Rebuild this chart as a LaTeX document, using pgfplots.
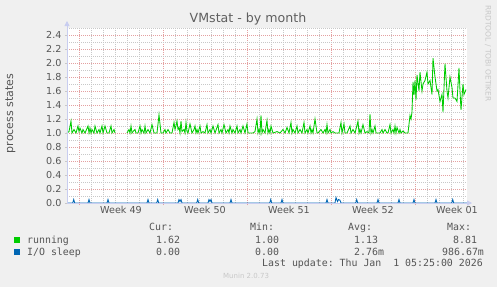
\documentclass[border=0pt]{standalone}
\usepackage{fontspec}
\setmainfont{DejaVu Sans}
\newfontfamily\monof{DejaVu Sans Mono}
\usepackage{pgfplots}
\pgfplotsset{compat=1.18}
\usetikzlibrary{arrows.meta}
\frenchspacing
\definecolor{bg}{RGB}{240,240,240}
\definecolor{axcol}{RGB}{200,205,240}
\definecolor{mgrid}{RGB}{228,160,160}
\definecolor{ngrid}{RGB}{200,200,200}
\definecolor{txt}{RGB}{85,85,85}
\definecolor{ttl}{RGB}{95,95,95}
\definecolor{wm}{RGB}{200,200,200}
\definecolor{running}{HTML}{00CC00}
\definecolor{iosleep}{HTML}{0066B3}
\begin{document}
\frenchspacing
\begin{tikzpicture}[x=1bp,y=1bp]
\path[use as bounding box, fill=bg] (0,0) rectangle (497,287);
\begin{axis}[
  name=ax,
  at={(67bp,84bp)}, anchor=south west,
  width=400bp, height=175bp, scale only axis,
  xmin=0, xmax=800, ymin=0, ymax=2.5,
  axis background/.style={fill=white},
  axis lines=left,
  axis line style={draw=none},
  unbounded coords=jump,
  xtick={24,192,360,528,696},
  xticklabels={},
  minor xtick={0,48,72,96,120,144,168,216,240,264,288,312,336,384,408,432,456,480,504,552,576,600,624,648,672,720,744,768,792},
  extra x ticks={108,276,444,612,780},
  extra x tick labels={Week 49,Week 50,Week 51,Week 52,Week 01},
  extra x tick style={grid=none, major tick length=0pt},
  ytick={0,0.2,0.4,0.6,0.8,1.0,1.2,1.4,1.6,1.8,2.0,2.2,2.4},
  minor ytick={0.1,0.3,0.5,0.7,0.9,1.1,1.3,1.5,1.7,1.9,2.1,2.3,2.5},
  grid=both,
  major grid style={mgrid, line width=0.6bp, dash pattern=on 1bp off 1bp},
  minor grid style={ngrid, line width=0.6bp, dash pattern=on 1bp off 1bp},
  tick align=outside,
  major tick length=2bp, minor tick length=0bp,
  x tick style={mgrid, line width=0.6bp},
  y tick style={ngrid, line width=0.6bp},
  /pgf/number format/assume math mode=true,
  yticklabel style={/pgf/number format/.cd, fixed, fixed zerofill, precision=1},
  ticklabel style={font=\fontsize{9.6bp}{11bp}\selectfont, text=txt},
  clip=false,
]
\addplot[running, line width=0.85bp] coordinates {
(0,1.0)(4,1.02)(8,1.17)(10,1.0)(14,1.05)(18,1.0)(22,1.1)(24,1.02)(26,1.07)(30,1.0)(32,1.05)(36,1.0)(42,1.1)(44,1.0)(46,1.07)(48,1.0)(50,1.05)(54,1.0)(56,1.1)(60,1.0)(64,1.05)(66,1.0)(70,1.1)(72,1.0)(76,1.1)(78,1.05)(80,1.0)(84,1.0)(88,1.1)(90,1.0)(94,1.05)(96,1.0)
(108,nan)
(120,1.0)(124,1.05)(126,1.0)(128,1.1)(130,1.0)(132,1.02)(136,1.05)(138,1.0)(142,1.0)(146,1.1)(148,1.0)(150,1.05)(154,1.0)(156,1.1)(158,1.0)(162,1.05)(166,1.0)(170,1.12)(174,1.0)(180,1.0)(184,1.26)(188,1.0)(192,1.0)(196,1.05)(198,1.0)(202,1.05)(206,1.0)(210,1.0)(214,1.15)(216,1.05)(218,1.1)(220,1.17)(222,1.05)(224,1.08)(226,1.0)(228,1.17)(230,1.02)(234,1.05)(236,1.0)(238,1.15)(240,1.02)(242,1.0)(246,1.13)(250,1.0)(254,1.05)(256,1.1)(258,1.0)(260,1.05)(262,1.0)(266,1.1)(268,1.0)(272,1.02)(276,1.0)(280,1.12)(282,1.0)(286,1.05)(288,1.0)(292,1.1)(296,1.0)(302,1.12)(304,1.0)(308,1.05)(310,1.0)(314,1.12)(318,1.0)(322,1.05)(324,1.0)(326,1.1)(330,1.0)(332,1.05)(336,1.0)(340,1.1)(342,1.0)(346,1.05)(348,1.0)(352,1.1)(356,1.0)(360,1.13)(362,1.0)(366,1.0)(372,1.0)(376,1.02)(380,1.2)(382,1.0)(384,1.05)(386,1.0)(388,1.25)(390,1.0)(392,1.05)(396,1.0)(400,1.18)(402,1.0)(404,1.05)(406,1.0)(408,1.1)(412,1.0)(420,1.02)(426,1.0)(432,1.05)(436,1.0)(440,1.08)(444,1.0)(448,1.15)(450,1.0)(452,1.05)(456,1.0)(460,1.1)(462,1.0)(466,1.05)(470,1.0)(474,1.15)(476,1.0)(480,1.05)(482,1.0)(486,1.1)(488,1.0)(490,1.05)(492,1.0)(496,1.2)(500,1.0)(502,1.0)(508,1.05)(512,1.0)(516,1.05)(518,1.0)(520,1.12)(522,1.0)(526,1.05)(528,1.0)(532,1.02)(536,1.0)(540,1.0)(544,1.0)(548,1.15)(550,1.0)(554,1.13)(556,1.0)(560,1.0)(566,1.1)(568,1.0)(572,1.05)(576,1.0)(582,1.17)(584,1.0)(586,1.05)(588,1.0)(592,1.12)(596,1.0)(600,1.02)(604,1.0)(606,1.27)(608,1.0)(610,1.05)(612,1.0)(616,1.1)(618,1.0)(622,1.0)(626,1.0)(630,1.05)(632,1.0)(636,1.05)(640,1.0)(642,1.0)(646,1.12)(648,1.0)(652,1.05)(654,1.0)(656,1.1)(658,1.0)(660,1.08)(664,1.0)(666,1.05)(668,1.0)(672,1.03)(676,1.0)(682,1.0)(686,1.25)(688,1.2)(690,1.3)(692,1.73)(694,1.54)(696,1.75)(698,1.47)(700,1.83)(704,1.6)(706,1.87)(710,1.6)(712,1.7)(716,1.75)(720,1.87)(722,1.7)(726,1.75)(730,1.55)(732,2.07)(736,1.8)(740,1.6)(742,1.62)(746,1.45)(750,1.55)(752,1.3)(756,1.99)(760,1.6)(762,1.5)(766,1.8)(770,1.65)(772,1.5)(776,1.5)(780,1.45)(784,1.93)(786,1.6)(788,1.33)(792,1.7)(794,1.55)(798,1.62)
};
\addplot[iosleep, line width=0.85bp] coordinates {
(0,0)(11.4,0)(13.4,0.05)(15.4,0)(42,0)(44,0.05)(46,0)(80,0)(82,0.05)(84,0)(160,0)(162,0.05)(164,0)(179.4,0)(181.4,0.05)(183.4,0)(222,0)(224,0.05)(226,0.02)(228,0.05)(230,0)(259.4,0)(261.4,0.05)(263.4,0)(282,0)(284,0.05)(286,0.02)(288,0.05)(290,0)(326,0)(328,0.05)(330,0)(405.4,0)(407.4,0.05)(409.4,0)(428,0)(430,0.05)(432,0)(518,0)(520,0.05)(522,0)(536,0)(538,0.08)(541,0.02)(543,0.05)(546,0.04)(548,0)(577.4,0)(579.4,0.05)(581.4,0)(620,0)(622,0.05)(624,0)(662,0)(664,0.05)(666,0)(692,0)(694,0.05)(696,0)(736,0)(738,0.05)(740,0)(769.4,0)(771.4,0.05)(773.4,0)(800,0)
};
\end{axis}
% axis arrows
\draw[axcol, line width=0.8bp, -{Triangle[length=5bp,width=5bp]}] (67,84) -- (67,266);
\draw[axcol, line width=0.8bp, -{Triangle[length=5bp,width=5bp]}] (67,84) -- (472,84);
% title and labels
\node[anchor=base, font=\fontsize{12.6bp}{15bp}\selectfont, text=ttl, inner sep=0] at (248,265) {VMstat - by month};
\node[rotate=90, font=\fontsize{11bp}{13bp}\selectfont, text=txt, inner sep=0] at (10.5,173.5) {process states};
\node[rotate=-90, font=\fontsize{7.5bp}{9bp}\selectfont, text=wm, inner sep=0] at (488,233.5) {RRDTOOL / TOBI OETIKER};
% legend
\begin{scope}[every node/.style={anchor=base west, inner sep=0, text=txt, font=\monof\fontsize{9.9bp}{12bp}\selectfont\frenchspacing}]
\node at (149,57) {Cur:};
\node at (250,57) {Min:};
\node at (348,57) {Avg:};
\node at (447,57) {Max:};
\fill[running] (14,44) rectangle (20,50);
\node at (27,43.5) {running};
\node at (156,43.5) {1.62};
\node at (255,43.5) {1.00};
\node at (354,43.5) {1.13};
\node at (453,43.5) {8.81};
\fill[iosleep] (14,32) rectangle (20,38);
\node at (27,31.5) {I/O sleep};
\node at (156,31.5) {0.00};
\node at (255,31.5) {0.00};
\node at (354,31.5) {2.76m};
\node at (442,31.5) {986.67m};
\node at (262,20.3) {Last update: Thu Jan\ \ 1 05:25:00 2026};
\end{scope}
\node[anchor=base west, inner sep=0, text=wm, font=\fontsize{7bp}{8bp}\selectfont] at (223,8.3) {Munin 2.0.73};
\end{tikzpicture}
\end{document}
